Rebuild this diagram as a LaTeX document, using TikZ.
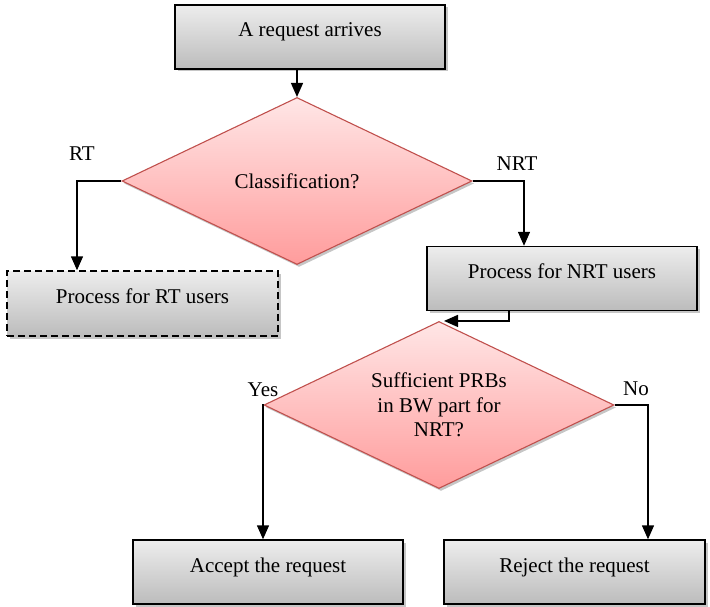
\documentclass[tikz,border=0pt]{standalone}
\usepackage{fontspec}
\setmainfont{Liberation Serif}
\usetikzlibrary{arrows.meta}
\usetikzlibrary{shapes.geometric,shadows}
\usepackage{xcolor}
\definecolor{boxtop}{HTML}{EDEDED}
\definecolor{boxbot}{HTML}{BCBCBC}
\definecolor{dtop}{HTML}{FFE6E6}
\definecolor{dbot}{HTML}{FF9C9C}
\definecolor{dline}{HTML}{C0504D}
\begin{document}
\begin{tikzpicture}[x=1pt, y=-1pt,
 every node/.style={font=\fontsize{21}{24.5}\selectfont},
 procbox/.style={rectangle, draw=black, line width=1.4pt, top color=boxtop, bottom color=boxbot,
  minimum width=270pt, minimum height=64pt, inner sep=0pt, text height=0pt, text depth=0pt,
  drop shadow={shadow xshift=2.5pt, shadow yshift=-2.5pt, fill=gray!45, opacity=1}},
 askbox/.style={diamond, aspect=2.1, draw=dline, line width=1.1pt, top color=dtop, bottom color=dbot,
  minimum width=350pt, minimum height=167pt, inner sep=0pt, align=center,
  drop shadow={shadow xshift=2pt, shadow yshift=-2.5pt, fill=gray!45, opacity=1}},
 conn/.style={black, line width=1.4pt, -{Triangle[width=12pt,length=14pt]}},
 lbl/.style={anchor=base, inner sep=0pt}]
\useasboundingbox (0,0) rectangle (710,607);
\node[procbox] (arrive) at (310,37) {A request arrives};
\node[askbox] (class) at (297,181) {Classification?};
\node[procbox, dash pattern=on 7pt off 4pt, minimum width=271pt, minimum height=65pt] (rt) at (142.5,303.5) {Process for RT users};
\node[procbox] (nrt) at (562,278.5) {Process for NRT users};
\node[askbox] (suff) at (439,405) {Sufficient PRBs\\in BW part for\\NRT?};
\node[procbox] (accept) at (268,572) {Accept the request};
\node[procbox, minimum width=261pt] (reject) at (574.5,572) {Reject the request};
\node[lbl] (rtlbl) at (82,161) {RT};
\node[lbl] (nrtlbl) at (517,171) {NRT};
\node[lbl] (yeslbl) at (263,396) {Yes};
\node[lbl] (nolbl) at (636,395) {No};
\draw[conn] (class.north |- arrive.south) -- (class.north);
\draw[conn] (class.west) -| ([xshift=-65.5pt]rt.north);
\draw[conn] (class.east) -| ([xshift=-38pt]nrt.north);
\draw[conn] ([xshift=-53pt]nrt.south) |- ([xshift=5pt]suff.north);
\draw[conn] (suff.west) -| ([xshift=-5pt]accept.north);
\draw[conn] (suff.east) -| ([xshift=73.5pt]reject.north);
\end{tikzpicture}
\end{document}
